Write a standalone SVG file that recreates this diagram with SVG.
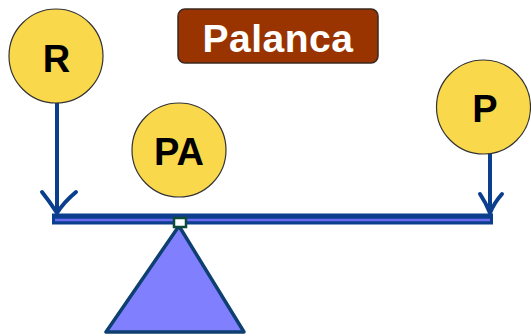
<svg xmlns="http://www.w3.org/2000/svg" width="531" height="336" viewBox="0 0 531 336">
<style>
.node{fill:#f9d84c;stroke:#333;stroke-width:1.2}
.lbl{font-family:"Liberation Sans",Arial,sans-serif;font-weight:bold;font-size:38px;fill:#000;text-anchor:middle}
.arr{fill:none;stroke:#0b3f8e;stroke-width:4;stroke-linecap:round;stroke-linejoin:round}
</style>
<rect width="531" height="336" fill="#fff"/>
<g id="title">
<rect x="178" y="9" width="200" height="54" rx="7" fill="#993300" stroke="#3a2a20" stroke-width="1.5"/>
<text x="278" y="52" class="lbl" style="fill:#fff;font-size:39px;letter-spacing:0.5px">Palanca</text>
</g>
<g id="fulcrum">
<polygon points="179,226 106,332 244,332" fill="#8080ff" stroke="#0d3f70" stroke-width="3.5" stroke-linejoin="round"/>
</g>
<g id="connectors">
<g id="beam">
<rect x="52" y="213.5" width="441" height="11" fill="#0b3f8e"/>
<line x1="55" y1="220" x2="490" y2="220" stroke="#6a6af0" stroke-width="2.5"/>
</g>
<path class="arr" d="M57,102 V213 M42,192 Q50,202 57,213 Q64,202 76,192"/>
<path class="arr" d="M490,154 V213 M480,194 Q486,203 490,213 Q494,203 502,194"/>
</g>
<g id="pivot">
<rect x="174" y="218" width="12" height="9" fill="#fff" stroke="#0d4a3a" stroke-width="2.5"/>
</g>
<g id="R">
<circle class="node" cx="56" cy="56" r="47"/>
<text x="56.5" y="72" class="lbl">R</text>
</g>
<g id="PA">
<circle class="node" cx="179" cy="150" r="47"/>
<text x="179" y="165" class="lbl">PA</text>
</g>
<g id="P">
<circle class="node" cx="483.5" cy="107" r="47"/>
<text x="485" y="122" class="lbl">P</text>
</g>
</svg>
